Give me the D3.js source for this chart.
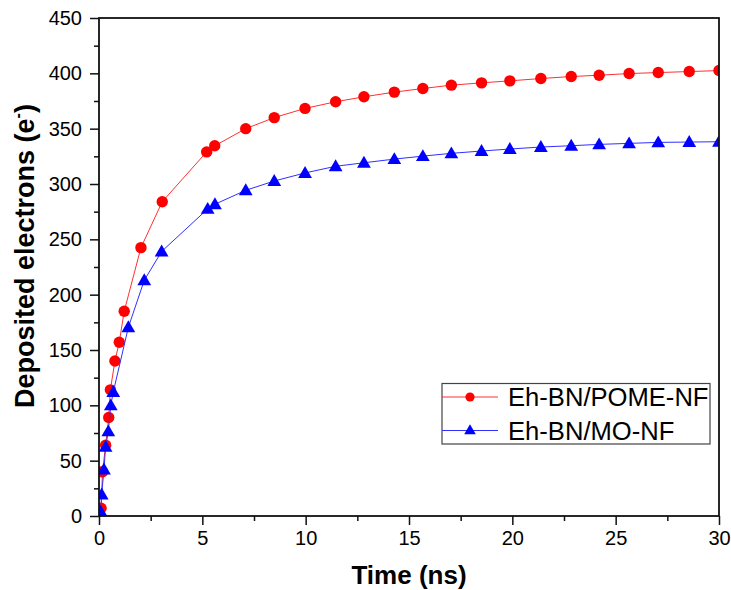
<!DOCTYPE html>
<html>
<head>
<meta charset="utf-8">
<script src="https://cdn.jsdelivr.net/npm/d3@7"></script>
<style>
  html, body { margin: 0; padding: 0; background: #fff; }
  svg { display: block; font-family: "Liberation Sans", Arial, sans-serif; }
</style>
</head>
<body>
<svg id="chart" width="731" height="590"></svg>
<script>
// Deposited electrons vs. time for the two nanofluids
const pomeTime = [0.1, 0.17, 0.32, 0.47, 0.55, 0.77, 0.98, 1.22, 2.03, 3.06, 5.21, 5.6, 7.1, 8.48, 9.97, 11.45, 12.82, 14.29, 15.67, 17.05, 18.51, 19.88, 21.38, 22.85, 24.2, 25.65, 27.06, 28.56, 30.0];
const pomeValues = [7, 40, 64, 89, 114, 140, 157, 185, 242.5, 284, 329, 334.5, 350, 360, 368.3, 374.3, 378.8, 383, 386.3, 389.3, 391.4, 393.2, 395.3, 397.1, 398.3, 399.8, 400.7, 401.6, 402.5];

const moTime = [0.08, 0.13, 0.24, 0.32, 0.45, 0.57, 0.69, 1.42, 2.19, 3.03, 5.26, 5.61, 7.1, 8.48, 9.97, 11.45, 12.82, 14.29, 15.67, 17.05, 18.51, 19.88, 21.38, 22.85, 24.2, 25.65, 27.06, 28.56, 30.0];
const moValues = [4, 19.5, 42, 62.5, 76.5, 100, 112, 170.5, 213, 239, 277.5, 281.7, 294.3, 302.7, 310, 316, 319.2, 322.5, 325.2, 327.7, 329.8, 331.6, 333.4, 334.6, 335.8, 336.7, 337.6, 337.9, 338.2];

const seriesNames = ["Eh-BN/POME-NF", "Eh-BN/MO-NF"];
const xTicks = [0, 5, 10, 15, 20, 25, 30];
const yTicks = [0, 50, 100, 150, 200, 250, 300, 350, 400, 450];

const svg = d3.select("#chart");
const margin = { left: 99, top: 18, right: 12, bottom: 74 };
const W = 731, H = 590;
const x = d3.scaleLinear().domain([0, 30]).range([margin.left, W - margin.right]);
const y = d3.scaleLinear().domain([0, 450]).range([H - margin.bottom, margin.top]);

const series = [
  { name: seriesNames[0], t: pomeTime, v: pomeValues, color: "#ff0000", line: "#ff3030", shape: "circle" },
  { name: seriesNames[1], t: moTime, v: moValues, color: "#0000ff", line: "#3030ff", shape: "triangle" }
];

svg.append("clipPath").attr("id", "plotClip")
  .append("rect")
  .attr("x", x(0)).attr("y", y(450))
  .attr("width", x(30) - x(0)).attr("height", y(0) - y(450));

const plot = svg.append("g").attr("clip-path", "url(#plotClip)");

const line = d3.line().x(d => x(d[0])).y(d => y(d[1]));
const circleSym = d3.symbol().type(d3.symbolCircle).size(Math.PI * 5.7 * 5.7);
const triSym = d3.symbol().type(d3.symbolTriangle).size(82);
const triSymLegend = d3.symbol().type(d3.symbolTriangle).size(58);
const circleSymLegend = d3.symbol().type(d3.symbolCircle).size(Math.PI * 4.6 * 4.6);

series.forEach(s => {
  const pts = s.t.map((t, i) => [t, s.v[i]]);
  plot.append("path").datum(pts)
    .attr("fill", "none").attr("stroke", s.line).attr("stroke-width", 1)
    .attr("d", line);
  plot.selectAll(null).data(pts).enter().append("path")
    .attr("transform", d => `translate(${x(d[0])},${y(d[1]) + (s.shape === "triangle" ? 1 : 0)})`)
    .attr("d", s.shape === "circle" ? circleSym : triSym)
    .attr("fill", s.color);
});

// Axes
const axisColor = "#111";
const xAxis = svg.append("g").attr("transform", `translate(0,${y(0)})`)
  .call(d3.axisBottom(x).tickValues(xTicks).tickSize(9).tickPadding(6).tickFormat(d3.format("d")));
const xMinor = svg.append("g").attr("transform", `translate(0,${y(0)})`)
  .call(d3.axisBottom(x).tickValues(d3.range(2.5, 30, 5)).tickSize(5).tickFormat(""));
const yAxis = svg.append("g").attr("transform", `translate(${x(0)},0)`)
  .call(d3.axisLeft(y).tickValues(yTicks).tickSize(9).tickPadding(8).tickFormat(d3.format("d")));
const yMinor = svg.append("g").attr("transform", `translate(${x(0)},0)`)
  .call(d3.axisLeft(y).tickValues(d3.range(25, 450, 50)).tickSize(5).tickFormat(""));

[xAxis, xMinor, yAxis, yMinor].forEach(g => {
  g.select(".domain").remove();
  g.selectAll(".tick line").attr("stroke", axisColor).attr("stroke-width", 1.5);
  g.selectAll(".tick text").attr("fill", "#000").attr("font-size", 20)
    .attr("font-family", "'Liberation Sans', Arial, sans-serif");
});

// Frame
svg.append("rect")
  .attr("x", x(0)).attr("y", y(450))
  .attr("width", x(30) - x(0)).attr("height", y(0) - y(450))
  .attr("fill", "none").attr("stroke", axisColor).attr("stroke-width", 1.8);

// Axis titles
svg.append("text")
  .attr("x", 409).attr("y", 584)
  .attr("text-anchor", "middle").attr("font-size", 26).attr("font-weight", "bold")
  .text("Time (ns)");

const yTitle = svg.append("text")
  .attr("transform", `translate(34,256) rotate(-90)`)
  .attr("text-anchor", "middle").attr("font-size", 27).attr("font-weight", "bold");
yTitle.append("tspan").text("Deposited electrons (e");
yTitle.append("tspan").attr("font-size", 16).attr("dy", -11).text("-");
yTitle.append("tspan").attr("dy", 11).text(")");

// Legend
const lg = svg.append("g");
lg.append("rect")
  .attr("x", 442).attr("y", 383.5).attr("width", 268).attr("height", 60.5)
  .attr("fill", "#fff").attr("stroke", "#444").attr("stroke-width", 1.2);
series.forEach((s, i) => {
  const cy = 397 + i * 33.5;
  lg.append("line").attr("x1", 442).attr("x2", 498).attr("y1", cy).attr("y2", cy)
    .attr("stroke", s.line).attr("stroke-width", 1);
  lg.append("path")
    .attr("transform", `translate(470,${cy + (s.shape === "triangle" ? 0.5 : 0)})`)
    .attr("d", s.shape === "circle" ? circleSymLegend : triSymLegend)
    .attr("fill", s.color);
  lg.append("text").attr("x", 508).attr("y", cy + 9)
    .attr("font-size", 25.6).attr("fill", "#000").text(s.name);
});
</script>
</body>
</html>
